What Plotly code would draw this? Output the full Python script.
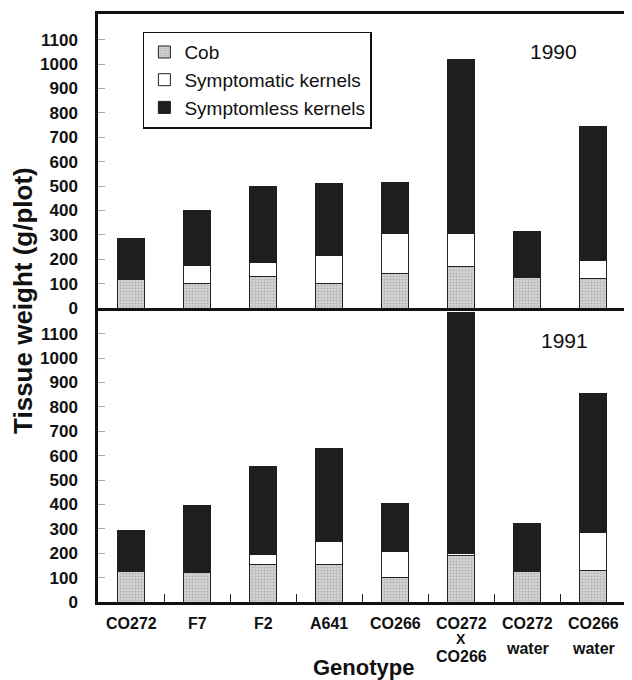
import plotly.graph_objects as go

genotypes = ["CO272", "F7", "F2", "A641", "CO266", "CO272<br>X<br>CO266", "CO272<br>water", "CO266<br>water"]
series_names = ["Cob", "Symptomatic kernels", "Symptomless kernels"]

# 1990 (top panel), component values g/plot
cob_1990 = [115, 100, 130, 100, 140, 170, 125, 120]
symptomatic_1990 = [5, 75, 55, 115, 165, 135, 5, 75]
symptomless_1990 = [165, 225, 315, 295, 210, 715, 185, 550]

# 1991 (bottom panel)
cob_1991 = [125, 120, 155, 155, 100, 190, 125, 130]
symptomatic_1991 = [5, 5, 40, 95, 105, 10, 5, 155]
symptomless_1991 = [165, 270, 360, 380, 200, 985, 190, 570]

y_ticks = list(range(0, 1200, 100))

FONT = "Liberation Sans, Arial, sans-serif"
fig = go.Figure()

styles = [
    dict(color="#cfcfcf", line=dict(color="#222", width=1),
         pattern=dict(shape=".", fgcolor="#8c8c8c", bgcolor="#d4d4d4", size=3, solidity=0.35)),
    dict(color="#ffffff", line=dict(color="#222", width=1)),
    dict(color="#1e1e1e", line=dict(color="#1e1e1e", width=1)),
]

top = [cob_1990, symptomatic_1990, symptomless_1990]
bot = [cob_1991, symptomatic_1991, symptomless_1991]
for i, name in enumerate(series_names):
    fig.add_trace(go.Bar(x=genotypes, y=top[i], name=name, marker=styles[i],
                         xaxis="x2", yaxis="y2", width=0.41, showlegend=True))
for i, name in enumerate(series_names):
    fig.add_trace(go.Bar(x=genotypes, y=bot[i], name=name, marker=styles[i],
                         xaxis="x", yaxis="y", width=0.41, showlegend=False))

yax = dict(range=[0, 1205], tickvals=y_ticks, ticks="inside", ticklen=7, tickwidth=1,
           tickcolor="#aaa", showgrid=False, zeroline=False, showline=True,
           linecolor="#111", linewidth=2.5, ticklabelstandoff=14,
           tickfont=dict(family=FONT, size=17, color="#111", weight="bold"))

# category labels drawn line by line under each category
annotations = []
for g in genotypes:
    lines = g.split("<br>")
    if len(lines) == 1:
        shifts, sizes = [-21], [16]
    elif len(lines) == 2:
        shifts, sizes = [-21, -46], [16, 16]
    else:
        shifts, sizes = [-21, -37, -54], [16, 14, 16]
    for ln, s, fs in zip(lines, shifts, sizes):
        annotations.append(dict(text=ln, x=g, xref="x", y=0, yref="paper", yshift=s,
                                xanchor="center", yanchor="middle", showarrow=False,
                                font=dict(family=FONT, size=fs, color="#111", weight="bold")))

annotations += [
    dict(text="1990", xref="paper", yref="paper", x=0.862, y=0.936, showarrow=False,
         xanchor="center", yanchor="middle", font=dict(family=FONT, size=21, color="#111")),
    dict(text="1991", xref="paper", yref="paper", x=0.884, y=0.444, showarrow=False,
         xanchor="center", yanchor="middle", font=dict(family=FONT, size=21, color="#111")),
    dict(text="Tissue weight (g/plot)", xref="paper", yref="paper", x=-0.142, y=0.512,
         textangle=-90, showarrow=False, xanchor="center", yanchor="middle",
         font=dict(family=FONT, size=26, color="#111", weight="bold")),
    dict(text="Genotype", xref="paper", yref="paper", x=0.503, y=-0.112, showarrow=False,
         xanchor="center", yanchor="middle",
         font=dict(family=FONT, size=22, color="#111", weight="bold")),
]

fig.update_layout(
    width=624, height=672,
    margin=dict(l=90, r=3, t=6, b=78),
    paper_bgcolor="white", plot_bgcolor="white",
    barmode="stack",
    font=dict(family=FONT, color="#111"),
    xaxis=dict(domain=[0, 1], anchor="y", type="category", tickson="boundaries",
               ticks="inside", ticklen=8, tickwidth=1, tickcolor="#222",
               showticklabels=False,
               showline=True, linecolor="#111", linewidth=2.5, showgrid=False),
    yaxis=dict(domain=[0, 0.5], anchor="x", **yax),
    xaxis2=dict(domain=[0, 1], anchor="y2", type="category", showticklabels=False,
                ticks="", showline=True, mirror=True, linecolor="#111", linewidth=2.5,
                showgrid=False, matches="x"),
    yaxis2=dict(domain=[0.5, 1], anchor="x2", mirror=True, **yax),
    legend=dict(x=0.085, y=0.97, xanchor="left", yanchor="top", traceorder="normal",
                bordercolor="#111", borderwidth=1.5, bgcolor="white",
                font=dict(family=FONT, size=19, color="#111")),
    shapes=[dict(type="line", xref="paper", yref="paper", x0=1, x1=1, y0=0, y1=0.5,
                 line=dict(color="#333", width=1))],
    annotations=annotations,
)

fig.write_html("out.html")
